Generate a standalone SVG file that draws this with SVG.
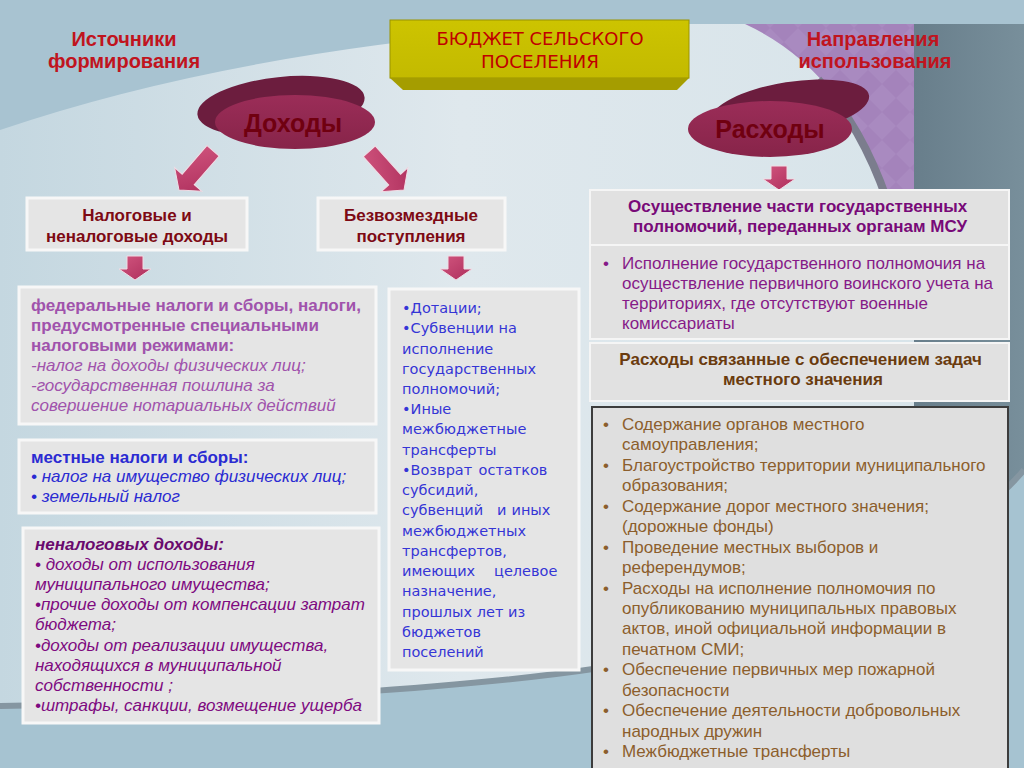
<svg xmlns="http://www.w3.org/2000/svg" width="1024" height="768" viewBox="0 0 1024 768">
<defs>
  <linearGradient id="bgMain" x1="0" y1="0" x2="1" y2="0">
    <stop offset="0" stop-color="#c4d7e0"/>
    <stop offset="0.45" stop-color="#dfe8ed"/>
    <stop offset="1" stop-color="#d6e3e9"/>
  </linearGradient>
  <linearGradient id="slate" x1="0" y1="0" x2="1" y2="0">
    <stop offset="0" stop-color="#687e8b"/>
    <stop offset="1" stop-color="#788f9b"/>
  </linearGradient>
  <pattern id="purplePat" width="28" height="28" patternUnits="userSpaceOnUse">
    <rect width="28" height="28" fill="#a483bb"/>
    <path d="M14,0 L28,14 L14,28 L0,14 Z" fill="#a98ac0"/>
  </pattern>
  <linearGradient id="arrowGrad" x1="0" y1="0" x2="1" y2="1">
    <stop offset="0" stop-color="#d2567f"/>
    <stop offset="1" stop-color="#ad2e5c"/>
  </linearGradient>
  <linearGradient id="discFront" x1="0" y1="0" x2="0" y2="1">
    <stop offset="0" stop-color="#9b2d58"/>
    <stop offset="1" stop-color="#872449"/>
  </linearGradient>
  <linearGradient id="titleFront" x1="0" y1="0" x2="0" y2="1">
    <stop offset="0" stop-color="#cdc400"/>
    <stop offset="1" stop-color="#c3ba00"/>
  </linearGradient>
  <path id="downArrow" d="M-8,-24 L8,-24 L8,-11 L16,-11 L0,0 L-16,-11 L-8,-11 Z"/>
  <path id="diagArrow" d="M-8,-52 L8,-52 L8,-14 L18,-14 L0,0 L-18,-14 L-8,-14 Z"/>
</defs>
<style>
  .hdr{font-family:"Liberation Sans",Arial,sans-serif;font-weight:bold;font-size:20px;fill:#c0141e;text-anchor:middle}
  .box{fill:#e5e5e5;stroke:#f7f7f7;stroke-width:3}
  .rbox{fill:#e1e1e1;stroke:#f5f5f5;stroke-width:2}
  .sub{font-family:"Liberation Sans",Arial,sans-serif;font-weight:bold;font-size:17px;fill:#7d0a14;text-anchor:middle}
  .arr{fill:url(#arrowGrad);stroke:#f0dde5;stroke-width:1}
  .disc{font-family:"Liberation Sans",Arial,sans-serif;font-weight:bold;font-size:25px;fill:#700010;text-anchor:middle}
  .t17{font-family:"Liberation Sans",Arial,sans-serif;font-size:17px}
  .b{font-weight:bold}
  .i{font-style:italic}
  .tah{font-family:"DejaVu Sans",Verdana,sans-serif;font-size:14.5px;fill:#3535d6}
</style>

<!-- background -->
<rect width="1024" height="768" fill="url(#bgMain)"/>
<path d="M0,0 L1024,0 L1024,24 L600,24 Q250,45 0,130 Z" fill="#a8c3d1"/>
<rect x="914" y="24" width="110" height="460" fill="url(#slate)"/>
<path d="M745,24 Q845,70 890,200 L914,200 L914,24 Z" fill="url(#purplePat)"/>
<path d="M742,24 Q842,70 887,200" fill="none" stroke="#7b7d8d" stroke-width="8" stroke-dasharray="0 95 300"/>
<path d="M0,706 C250,703 480,686 600,668 C800,632 960,545 1024,470 L1024,768 L0,768 Z" fill="#a6c3d1"/>
<path d="M0,706 C250,703 480,686 600,668 C800,632 960,545 1024,470" fill="none" stroke="#8596a1" stroke-width="6"/>

<!-- header labels -->
<g id="label-sources">
  <text class="hdr" x="124" y="46">Источники</text>
  <text class="hdr" x="124" y="68">формирования</text>
</g>
<g id="label-directions">
  <text class="hdr" x="873" y="46">Направления</text>
  <text class="hdr" x="875" y="68">использования</text>
</g>

<!-- title -->
<g id="node-budget">
  <rect x="390" y="20" width="299" height="58" fill="url(#titleFront)" stroke="#9a9400" stroke-width="1"/>
  <path d="M390,78 L689,78 L677,90 L403,90 Z" fill="#a59d00"/>
  <text x="540" y="45" font-family="DejaVu Sans,Verdana,sans-serif" font-size="17" fill="#c00000" text-anchor="middle" textLength="207" lengthAdjust="spacingAndGlyphs">БЮДЖЕТ СЕЛЬСКОГО</text>
  <text x="540" y="68" font-family="DejaVu Sans,Verdana,sans-serif" font-size="17" fill="#c00000" text-anchor="middle" textLength="118" lengthAdjust="spacingAndGlyphs">ПОСЕЛЕНИЯ</text>
</g>

<!-- discs -->
<g id="node-dohody">
  <ellipse cx="281" cy="106" rx="84" ry="29" transform="rotate(-6 281 106)" fill="#6c1d3e"/>
  <ellipse cx="295" cy="122" rx="80" ry="27" fill="url(#discFront)"/>
  <text class="disc" x="293" y="132">Доходы</text>
</g>
<g id="node-rashody">
  <ellipse cx="790" cy="108" rx="80" ry="26" transform="rotate(-9 790 108)" fill="#6c1d3e"/>
  <ellipse cx="770" cy="129" rx="82" ry="28" fill="url(#discFront)"/>
  <text class="disc" x="770" y="138">Расходы</text>
</g>

<!-- connectors -->
<g id="connectors">
  <use href="#diagArrow" class="arr" transform="translate(179,190) rotate(41)"/>
  <use href="#diagArrow" class="arr" transform="translate(404,190) rotate(-42)"/>
  <use href="#downArrow" class="arr" transform="translate(135,280)"/>
  <use href="#downArrow" class="arr" transform="translate(456,280)"/>
  <use href="#downArrow" class="arr" transform="translate(779,190)"/>
</g>

<!-- income branches -->
<g id="node-tax">
  <rect class="box" x="27" y="198" width="220" height="52"/>
  <text class="sub" x="137" y="221">Налоговые и</text>
  <text class="sub" x="137" y="242">неналоговые доходы</text>
</g>
<g id="node-free">
  <rect class="box" x="318" y="198" width="187" height="52"/>
  <text class="sub" x="411" y="221">Безвозмездные</text>
  <text class="sub" x="411" y="242">поступления</text>
</g>

<g id="node-federal">
  <rect class="box" x="19" y="287" width="357" height="137"/>
  <text class="t17" fill="#a053ac">
    <tspan class="b" x="31" y="311">федеральные налоги и сборы, налоги,</tspan>
    <tspan class="b" x="31" y="331">предусмотренные специальными</tspan>
    <tspan class="b" x="31" y="351">налоговыми режимами:</tspan>
    <tspan class="i" x="31" y="371">-налог на доходы физических лиц;</tspan>
    <tspan class="i" x="31" y="391">-государственная пошлина за</tspan>
    <tspan class="i" x="31" y="411">совершение нотариальных действий</tspan>
  </text>
</g>

<g id="node-local">
  <rect class="box" x="19" y="440" width="357" height="73"/>
  <text class="t17" fill="#2b2bd2">
    <tspan class="b" x="31" y="463">местные налоги и сборы:</tspan>
    <tspan class="i" x="31" y="482">• налог на имущество физических лиц;</tspan>
    <tspan class="i" x="31" y="502">• земельный налог</tspan>
  </text>
</g>

<g id="node-nontax">
  <rect class="box" x="23" y="528" width="356" height="195"/>
  <text class="t17 i" fill="#7e0a80">
    <tspan class="b" fill="#6a0a6e" x="35" y="550">неналоговых доходы:</tspan>
    <tspan x="35" y="570">• доходы от использования</tspan>
    <tspan x="35" y="590">муниципального имущества;</tspan>
    <tspan x="35" y="610">•прочие доходы от компенсации затрат</tspan>
    <tspan x="35" y="630">бюджета;</tspan>
    <tspan x="35" y="650.5">•доходы от реализации имущества,</tspan>
    <tspan x="35" y="670.5">находящихся в муниципальной</tspan>
    <tspan x="35" y="690.5">собственности ;</tspan>
    <tspan x="35" y="710.5">•штрафы, санкции, возмещение ущерба</tspan>
  </text>
</g>

<g id="node-transfers">
  <rect class="box" x="389" y="289" width="190" height="381"/>
  <text class="tah">
    <tspan x="402" y="313">•Дотации;</tspan>
    <tspan x="402" y="333.2">•Субвенции на</tspan>
    <tspan x="402" y="353.5">исполнение</tspan>
    <tspan x="402" y="373.7">государственных</tspan>
    <tspan x="402" y="394">полномочий;</tspan>
    <tspan x="402" y="414.2">•Иные</tspan>
    <tspan x="402" y="434.4">межбюджетные</tspan>
    <tspan x="402" y="454.7">трансферты</tspan>
    <tspan x="402" y="475">•Возврат</tspan>
    <tspan x="552" y="475" text-anchor="end">остатков</tspan>
    <tspan x="402" y="495.2">субсидий,</tspan>
    <tspan x="402" y="515.4">субвенций</tspan>
    <tspan x="504" y="515.4" text-anchor="middle">и</tspan>
    <tspan x="555" y="515.4" text-anchor="end">иных</tspan>
    <tspan x="402" y="535.7">межбюджетных</tspan>
    <tspan x="402" y="556">трансфертов,</tspan>
    <tspan x="402" y="576.2">имеющих</tspan>
    <tspan x="562" y="576.2" text-anchor="end">целевое</tspan>
    <tspan x="402" y="596.4">назначение,</tspan>
    <tspan x="402" y="616.7">прошлых лет из</tspan>
    <tspan x="402" y="637">бюджетов</tspan>
    <tspan x="402" y="657.2">поселений</tspan>
  </text>
</g>

<!-- expenses -->
<g id="node-state-powers">
  <rect class="rbox" x="590" y="190" width="419" height="55"/>
  <text class="t17 b" fill="#780a78" text-anchor="middle">
    <tspan x="800" y="212">Осуществление части государственных</tspan>
    <tspan x="800" y="232">полномочий, переданных органам МСУ</tspan>
  </text>
</g>
<g id="node-military">
  <rect class="rbox" x="590" y="245" width="419" height="94"/>
  <text class="t17" fill="#861a88">
    <tspan x="603" y="269">•</tspan>
    <tspan x="622" y="269">Исполнение государственного полномочия на</tspan>
    <tspan x="622" y="289">осуществление первичного воинского учета на</tspan>
    <tspan x="622" y="309">территориях, где отсутствуют военные</tspan>
    <tspan x="622" y="329">комиссариаты</tspan>
  </text>
</g>
<g id="node-local-tasks">
  <rect class="rbox" x="590" y="343" width="419" height="58"/>
  <text class="t17 b" fill="#6a3b0e" text-anchor="middle">
    <tspan x="803" y="365">Расходы связанные с обеспечением задач</tspan>
    <tspan x="803" y="385">местного значения</tspan>
  </text>
</g>
<g id="node-local-list">
  <rect x="592" y="407" width="416" height="370" fill="#dfdfdf" stroke="#3c3c3c" stroke-width="2"/>
  <text class="t17" fill="#8c5e2c">
    <tspan x="603" y="430">•</tspan><tspan x="622" y="430">Содержание органов местного</tspan>
    <tspan x="622" y="450.4">самоуправления;</tspan>
    <tspan x="603" y="470.9">•</tspan><tspan x="622" y="470.9">Благоустройство территории муниципального</tspan>
    <tspan x="622" y="491.3">образования;</tspan>
    <tspan x="603" y="511.8">•</tspan><tspan x="622" y="511.8">Содержание дорог местного значения;</tspan>
    <tspan x="622" y="532.2">(дорожные фонды)</tspan>
    <tspan x="603" y="552.6">•</tspan><tspan x="622" y="552.6">Проведение местных выборов и</tspan>
    <tspan x="622" y="573.1">референдумов;</tspan>
    <tspan x="603" y="593.5">•</tspan><tspan x="622" y="593.5">Расходы на исполнение полномочия по</tspan>
    <tspan x="622" y="614">опубликованию муниципальных правовых</tspan>
    <tspan x="622" y="634.4">актов, иной официальной информации в</tspan>
    <tspan x="622" y="654.8">печатном СМИ;</tspan>
    <tspan x="603" y="675.3">•</tspan><tspan x="622" y="675.3">Обеспечение первичных мер пожарной</tspan>
    <tspan x="622" y="695.7">безопасности</tspan>
    <tspan x="603" y="716.2">•</tspan><tspan x="622" y="716.2">Обеспечение деятельности добровольных</tspan>
    <tspan x="622" y="736.6">народных дружин</tspan>
    <tspan x="603" y="757">•</tspan><tspan x="622" y="757">Межбюджетные трансферты</tspan>
  </text>
</g>
</svg>
